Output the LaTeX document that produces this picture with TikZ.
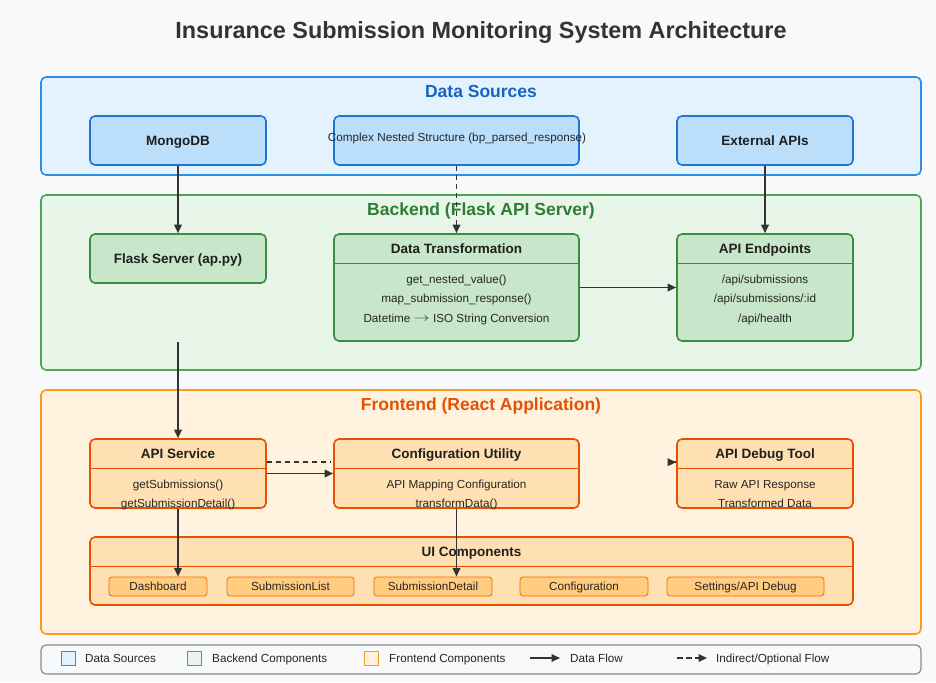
\documentclass[tikz,border=0pt]{standalone}
\usepackage{graphicx}
\usepackage{fontspec}
\setmainfont{Liberation Sans}
\usetikzlibrary{arrows.meta,calc}
\definecolor{pagebg}{HTML}{F7F9FA}
\definecolor{dsfill}{HTML}{E3F2FD}
\definecolor{dsstroke}{HTML}{2C8FE6}
\definecolor{dsinner}{HTML}{BBDEFB}
\definecolor{dsinstroke}{HTML}{1E74D0}
\definecolor{dstitle}{HTML}{1565C0}
\definecolor{befill}{HTML}{E8F5E9}
\definecolor{bestroke}{HTML}{4CA752}
\definecolor{beinner}{HTML}{C8E6C9}
\definecolor{beinstroke}{HTML}{388E3C}
\definecolor{betitle}{HTML}{2E7D32}
\definecolor{fefill}{HTML}{FFF3E0}
\definecolor{festroke}{HTML}{FB9A1E}
\definecolor{feinner}{HTML}{FFE0B2}
\definecolor{feinstroke}{HTML}{E65100}
\definecolor{fetitle}{HTML}{E65100}
\definecolor{btnfill}{HTML}{FFCC80}
\definecolor{btnstroke}{HTML}{EF6C00}
\definecolor{arrowc}{HTML}{333333}
\definecolor{lgstroke}{HTML}{8A8A8A}
\pgfdeclarelayer{bg}
\pgfsetlayers{bg,main}
\begin{document}
\begin{tikzpicture}[x=1pt,y=-1pt,
  container/.style={line width=1.6pt, rounded corners=5pt},
  ctitle/.style={font=\fontsize{17.5}{20}\selectfont\bfseries, inner sep=0, text height=12.5pt, text depth=0pt},
  box/.style={line width=1.6pt, rounded corners=5pt, inner sep=0, draw},
  dsb/.style={box, draw=dsinstroke, fill=dsinner},
  beb/.style={box, draw=beinstroke, fill=beinner},
  feb/.style={box, draw=feinstroke, fill=feinner},
  btitle/.style={font=\fontsize{13.5}{16}\selectfont\bfseries, text=black!88, inner sep=0, text height=9.7pt, text depth=0pt},
  body/.style={font=\fontsize{11.7}{14}\selectfont, text=black!85, inner sep=0, text height=8.4pt, text depth=0pt},
  btn/.style={draw=btnstroke, fill=btnfill, line width=0.8pt, rounded corners=3pt, inner sep=0, minimum height=19pt, font=\fontsize{11.7}{14}\selectfont, text=black!85, text depth=0pt, text height=8.4pt},
  flow/.style={draw=arrowc, line width=1.7pt, -{Triangle[length=8.5pt,width=7.5pt]}},
  optflow/.style={flow, dash pattern=on 5.5pt off 3.5pt},
  lgtext/.style={font=\fontsize{11.7}{14}\selectfont, text=black!85, anchor=west, inner sep=0, text height=8.4pt, text depth=0pt}
]
\useasboundingbox (0,0) rectangle (936,682);
\begin{pgfonlayer}{bg}
\fill[pagebg] (0,0) rectangle (936,682);
\filldraw[container, fill=dsfill, draw=dsstroke] (41,77) rectangle (921,175);
\filldraw[container, fill=befill, draw=bestroke] (41,195) rectangle (921,370);
\filldraw[container, fill=fefill, draw=festroke] (41,390) rectangle (921,634);
\filldraw[fill=pagebg, draw=lgstroke, line width=1.2pt, rounded corners=5pt] (41,645) rectangle (921,674);
\end{pgfonlayer}

% title
\node[font=\fontsize{23.4}{28}\selectfont\bfseries, text=black!80, inner sep=0, text height=16.8pt, text depth=0pt] (title) at (481,30) {Insurance Submission Monitoring System Architecture};

% Data sources
\node[ctitle, text=dstitle] (dst) at (481,91) {Data Sources};
\node[dsb, minimum width=176pt, minimum height=49pt] (mongo) at (178,140.5) {};
\node[btitle] (mongot) at (178,141) {MongoDB};
\node[dsb, minimum width=245pt, minimum height=49pt] (complex) at (456.5,140.5) {};
\node[body] (complext) at (457,137) {Complex Nested Structure (bp\_parsed\_response)};
\node[dsb, minimum width=176pt, minimum height=49pt] (ext) at (765,140.5) {};
\node[btitle] (extt) at (765,141) {External APIs};

% Backend
\node[ctitle, text=betitle] (bet) at (481,209) {Backend (Flask API Server)};
\node[beb, minimum width=176pt, minimum height=49pt] (flask) at (178,258.5) {};
\node[btitle] (flaskt) at (178,259) {Flask Server (ap.py)};
\node[beb, minimum width=245pt, minimum height=107pt] (dt) at (456.5,287.5) {};
\draw[beinstroke, line width=0.8pt] (dt.west |- 0,263) -- (dt.east |- 0,263);
\node[btitle] (dtt) at (456.5,249) {Data Transformation};
\node[body] (dt1) at (456.5,279) {get\_nested\_value()};
\node[body] (dt2) at (456.5,298) {map\_submission\_response()};
\node[body] (dt3) at (456.5,318) {Datetime \raisebox{0.3pt}{\scalebox{1.35}[1]{$\rightarrow$}} ISO String Conversion};
\node[beb, minimum width=176pt, minimum height=107pt] (ep) at (765,287.5) {};
\draw[beinstroke, line width=0.8pt] (ep.west |- 0,263) -- (ep.east |- 0,263);
\node[btitle] (ept) at (765,249) {API Endpoints};
\node[body] (ep1) at (765,279) {/api/submissions};
\node[body] (ep2) at (765,298) {/api/submissions/:id};
\node[body] (ep3) at (765,318) {/api/health};

% Frontend
\node[ctitle, text=fetitle] (fet) at (481,404) {Frontend (React Application)};
\node[feb, minimum width=176pt, minimum height=69pt] (apis) at (178,473.5) {};
\draw[feinstroke, line width=0.8pt] (apis.west |- 0,468) -- (apis.east |- 0,468);
\node[btitle] (apist) at (178,454) {API Service};
\node[body] (apis1) at (178,484) {getSubmissions()};
\node[body] (apis2) at (178,503) {getSubmissionDetail()};
\node[feb, minimum width=245pt, minimum height=69pt] (conf) at (456.5,473.5) {};
\draw[feinstroke, line width=0.8pt] (conf.west |- 0,468) -- (conf.east |- 0,468);
\node[btitle] (conft) at (456.5,454) {Configuration Utility};
\node[body] (conf1) at (456.5,484) {API Mapping Configuration};
\node[body] (conf2) at (456.5,503) {transformData()};
\node[feb, minimum width=176pt, minimum height=69pt] (dbg) at (765,473.5) {};
\draw[feinstroke, line width=0.8pt] (dbg.west |- 0,468) -- (dbg.east |- 0,468);
\node[btitle] (dbgt) at (765,454) {API Debug Tool};
\node[body] (dbg1) at (765,484) {Raw API Response};
\node[body] (dbg2) at (765,503) {Transformed Data};

\node[feb, minimum width=763pt, minimum height=68pt] (ui) at (471.5,571) {};
\draw[feinstroke, line width=0.8pt] (ui.west |- 0,566) -- (ui.east |- 0,566);
\node[btitle] (uit) at (471.5,552) {UI Components};
\node[btn, minimum width=98pt] (dash) at (158,586.5) {Dashboard};
\node[btn, minimum width=127pt] (slist) at (290.5,586.5) {SubmissionList};
\node[btn, minimum width=118pt] (sdet) at (433,586.5) {SubmissionDetail};
\node[btn, minimum width=128pt] (cfg) at (584,586.5) {Configuration};
\node[btn, minimum width=157pt] (set) at (745.5,586.5) {Settings/API Debug};

% connectors
\draw[flow] (mongo.south) -- (flask.north);
\draw[optflow] (complex.south) -- (dt.north);
\draw[flow] (ext.south) -- (ep.north);
\draw[flow] (dt.east) -- (ep.west);
\coordinate (flaskout) at (178,342);
\draw[flow] (flaskout) -- (apis.north);
\draw[flow] (apis.east) -- (conf.west);
\draw[draw=arrowc, line width=1.7pt, dash pattern=on 5.5pt off 3.5pt] ($(apis.north east)+(0,24)$) -- ($(conf.north west)+(-3,24)$);
\draw[flow] ($(dbg.north west)+(-0.5,24)$) -- ($(dbg.north west)+(0,24)$);
\draw[flow] (apis.south) -- (apis.south |- dash.north);
\draw[flow] (conf.south) -- (conf.south |- sdet.north);

% legend
\node[draw=dsstroke, fill=dsfill, line width=0.8pt, minimum size=14pt, inner sep=0] (lg1) at (68,658) {};
\node[lgtext] (lg1t) at (85,658) {Data Sources};
\node[draw=bestroke, fill=befill, line width=0.8pt, minimum size=14pt, inner sep=0] (lg2) at (194.5,658) {};
\node[lgtext] (lg2t) at (212,658) {Backend Components};
\node[draw=festroke, fill=fefill, line width=0.8pt, minimum size=14pt, inner sep=0] (lg3) at (371,658) {};
\node[lgtext] (lg3t) at (389,658) {Frontend Components};
\coordinate (lg4a) at (530,658);
\coordinate (lg4b) at (560,658);
\draw[flow] (lg4a) -- (lg4b);
\node[lgtext] (lg4t) at (570,658) {Data Flow};
\coordinate (lg5a) at (677,658);
\coordinate (lg5b) at (707,658);
\draw[optflow] (lg5a) -- (lg5b);
\node[lgtext] (lg5t) at (716,658) {Indirect/Optional Flow};
\end{tikzpicture}
\end{document}
